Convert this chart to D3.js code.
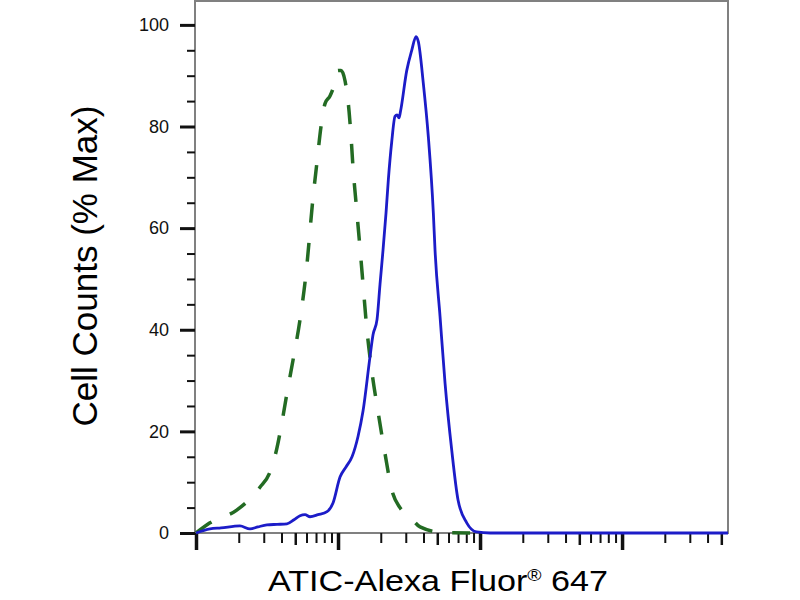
<!DOCTYPE html>
<html lang="en">
<head>
<meta charset="utf-8">
<title>ATIC flow histogram</title>
<script src="https://cdn.jsdelivr.net/npm/d3@7"></script>
<style>
  body { margin: 0; background: #fff; }
  svg { display: block; font-family: "Liberation Sans", Arial, Helvetica, sans-serif; }
</style>
</head>
<body>
<svg id="chart" width="800" height="600"></svg>
<script>
// stained sample (solid blue): fluorescence vs % max
var stainedX = [10, 12.55, 15.0, 20.4, 24.0, 27.3, 31.6, 37.2, 43.7, 49.0, 54.0, 58.6, 63.5, 72.3, 83.7, 92.2,
  103.3, 113.8, 125.5, 138.3, 150, 168, 176.4, 188.2, 197.6, 207.5, 217.8, 226.1, 238.9, 252, 260.4, 268.9,
  275.5, 304.6, 330.4, 354.3, 367.8, 398.7, 432.4, 469, 482, 522.9, 567, 632, 700, 806, 948, 1176, 55700];
var stainedY = [0, 0.8, 1.0, 1.4, 0.8, 1.2, 1.6, 1.7, 1.8, 2.6, 3.4, 3.6, 3.2, 3.6, 4.2, 5.9,
  11, 13, 15, 19, 24, 34.7, 39, 42, 49, 55.7, 63, 69.5, 77, 82, 82.3, 81.7,
  83, 91, 95, 97.7, 96.7, 88.5, 78, 63, 55.7, 42.6, 29.5, 16.3, 6.5, 2, 0.2, 0, 0];

// isotype control (dashed green)
var controlX = [10, 12.55, 19.35, 28.2, 33.2, 37.0, 41.0, 43.7, 48.2, 54.0, 59.5, 66.7, 71.1, 75.9, 81.0,
  87.8, 93.7, 100, 105, 112, 119.6, 123.5, 127.5, 133.9, 142.9, 150, 159, 172.6, 191, 214, 239, 273, 321,
  378, 548, 851];
var controlY = [0, 2, 4.5, 9, 12, 16.5, 23, 27.5, 34, 42, 51, 66, 73, 80, 84.5,
  86, 88, 91, 91, 89, 83, 78, 72, 65, 56, 49, 40.6, 32, 24, 15.7, 8.5, 5, 3.2,
  1.2, 0.1, 0];

var yMajor = [0, 20, 40, 60, 80, 100];
var yMinor = [5, 10, 15, 25, 30, 35, 45, 50, 55, 65, 70, 75, 85, 90, 95];
var xMajor = [10, 100, 1000, 10000];
var xMinorMult = [2, 3, 4, 5, 6, 7, 8, 9];

var plot = {left: 195, right: 728, top: 1, bottom: 533};

var svg = d3.select("#chart");

var x = d3.scaleLog()
  .domain([10, Math.pow(10, 4.746)])
  .range([196, plot.right]);
var y = d3.scaleLinear()
  .domain([0, 104.7])
  .range([plot.bottom, plot.top]);

// frame
svg.append("rect")
  .attr("x", plot.left).attr("y", plot.top)
  .attr("width", plot.right - plot.left).attr("height", plot.bottom - plot.top)
  .attr("fill", "none").attr("stroke", "#808080").attr("stroke-width", 2);

// y axis
var yMinorAxis = d3.axisLeft(y).tickValues(yMinor).tickSize(8).tickFormat("");
svg.append("g").attr("transform", "translate(" + plot.left + ",0)")
  .call(yMinorAxis)
  .call(function(g) {
    g.select(".domain").remove();
    g.selectAll("line").attr("stroke", "#111").attr("stroke-width", 2);
  });

var yMajorAxis = d3.axisLeft(y).tickValues(yMajor).tickSize(15).tickPadding(11);
svg.append("g").attr("transform", "translate(" + plot.left + ",0)")
  .call(yMajorAxis)
  .call(function(g) {
    g.select(".domain").remove();
    g.selectAll("line").attr("stroke", "#111").attr("stroke-width", 3);
    g.selectAll("text").attr("font-size", 18).attr("fill", "#111")
      .attr("font-family", "'Liberation Sans', Arial, sans-serif");
  });

// x axis (log decades, no labels)
var xMinor = [];
xMajor.forEach(function(d) {
  xMinorMult.forEach(function(m) {
    if (d * m <= x.domain()[1]) xMinor.push(d * m);
  });
});

svg.append("g").attr("transform", "translate(0," + plot.bottom + ")")
  .call(d3.axisBottom(x).tickValues(xMinor.filter(function(d) { return !/^5/.test(String(d)); }))
    .tickSize(10).tickFormat(""))
  .call(function(g) {
    g.select(".domain").remove();
    g.selectAll("line").attr("stroke", "#111").attr("stroke-width", 2);
  });

svg.append("g").attr("transform", "translate(0," + plot.bottom + ")")
  .call(d3.axisBottom(x).tickValues(xMinor.filter(function(d) { return /^5/.test(String(d)); }))
    .tickSize(12).tickFormat(""))
  .call(function(g) {
    g.select(".domain").remove();
    g.selectAll("line").attr("stroke", "#111").attr("stroke-width", 2.5);
  });

svg.append("g").attr("transform", "translate(0," + plot.bottom + ")")
  .call(d3.axisBottom(x).tickValues(xMajor.filter(function(d) { return d <= x.domain()[1]; }))
    .tickSize(17).tickFormat(""))
  .call(function(g) {
    g.select(".domain").remove();
    g.selectAll("line").attr("stroke", "#111").attr("stroke-width", 3.5);
  });

// curves
var line = d3.line()
  .x(function(d) { return x(d[0]); })
  .y(function(d) { return y(d[1]); })
  .curve(d3.curveMonotoneX);

svg.append("path")
  .datum(d3.zip(controlX, controlY))
  .attr("d", line)
  .attr("fill", "none")
  .attr("stroke", "#236b23")
  .attr("stroke-width", 3.5)
  .attr("stroke-dasharray", "19,20");

svg.append("path")
  .datum(d3.zip(stainedX, stainedY))
  .attr("d", line)
  .attr("fill", "none")
  .attr("stroke", "#1c1cc8")
  .attr("stroke-width", 2.8);

// axis titles
svg.append("text")
  .attr("transform", "translate(97,266) rotate(-90)")
  .attr("text-anchor", "middle")
  .attr("font-size", 35)
  .attr("fill", "#000")
  .text("Cell Counts (% Max)");

var xt = svg.append("text")
  .attr("x", 268).attr("y", 591)
  .attr("font-size", 30)
  .attr("fill", "#000")
  .attr("textLength", 340)
  .attr("lengthAdjust", "spacingAndGlyphs");
xt.append("tspan").text("ATIC-Alexa Fluor");
xt.append("tspan").attr("font-size", 17).attr("dy", -10).text("\u00AE");
xt.append("tspan").attr("dy", 10).text(" 647");
</script>
</body>
</html>
